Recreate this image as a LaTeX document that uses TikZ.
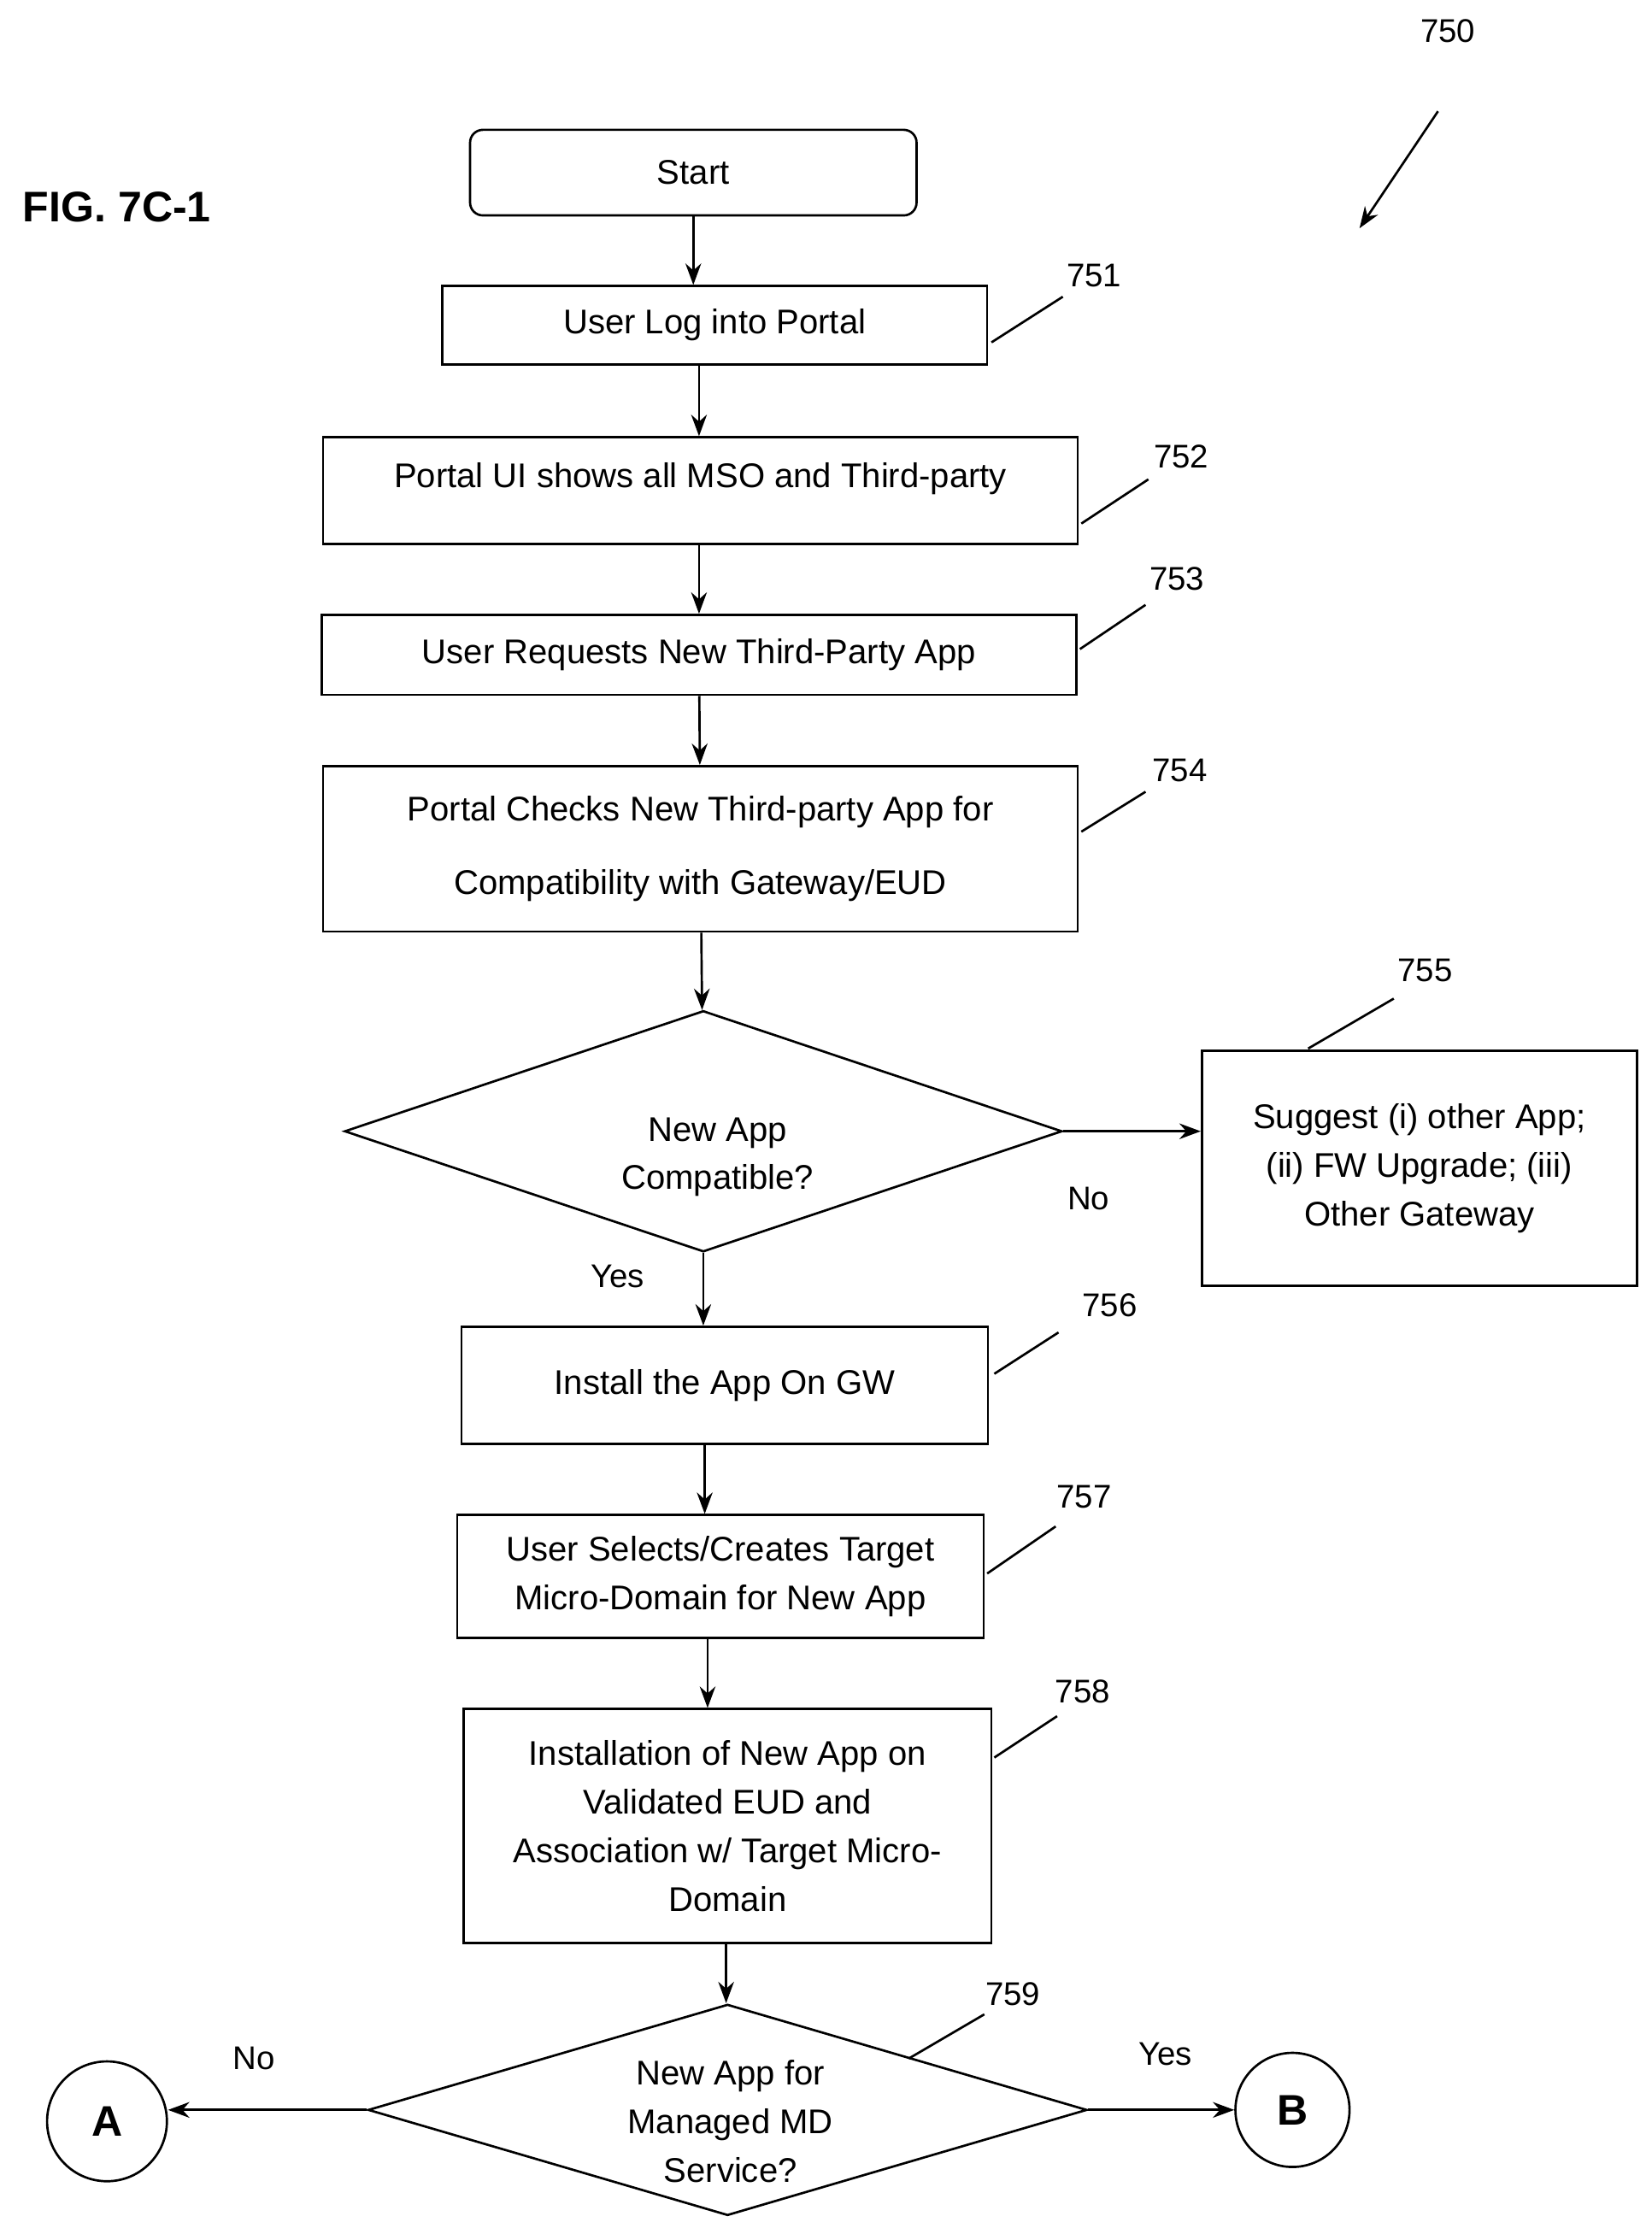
\documentclass[tikz,border=0pt]{standalone}
\usepackage{fontspec}
\setmainfont{Liberation Sans}
\usetikzlibrary{shapes.geometric,arrows.meta}
\tikzset{box/.style={draw,line width=1.6pt,inner sep=0pt,font=\fontsize{24}{34}\selectfont,align=center},
flow/.style={line width=1.6pt,-{Stealth[length=15pt,width=11pt]}},
lead/.style={line width=1.6pt},
num/.style={font=\fontsize{23}{27}\selectfont}}
\begin{document}
\begin{tikzpicture}[x=1pt,y=-1pt]
\useasboundingbox (0,0) rectangle (1158,1566);
%\draw (0,0) rectangle (1158,1566);
\node[box,rounded corners=9pt,minimum width=313pt,minimum height=60pt] at (486,121) (Start) {Start};
\node[box,minimum width=382pt,minimum height=55pt] at (501,228) (Node751) {User Log into Portal};
\node[box,minimum width=529pt,minimum height=75pt,text depth=22pt] at (491,344) (Node752) {Portal UI shows all MSO and Third-party};
\node[box,minimum width=529pt,minimum height=56pt] at (490,459) (Node753) {User Requests New Third-Party App};
\node[box,minimum width=529pt,minimum height=116pt,font=\fontsize{24}{51}\selectfont] at (491,595) (Node754) {Portal Checks New Third-party App for\\Compatibility with Gateway/EUD};
\node[box,diamond,minimum width=503pt,minimum height=169pt] at (493,793) (Dec1) {};
\node[align=center,font=\fontsize{24}{34}\selectfont] at (503,811) (Dec1Text) {New App\\Compatible?};
\node[box,minimum width=305pt,minimum height=165pt] at (995,819) (Node755) {Suggest (i) other App;\\(ii) FW Upgrade; (iii)\\Other Gateway};
\node[box,minimum width=369pt,minimum height=82pt] at (508,971) (Node756) {Install the App On GW};
\node[box,minimum width=369pt,minimum height=86pt] at (505,1105) (Node757) {User Selects/Creates Target\\Micro-Domain for New App};
\node[box,minimum width=370pt,minimum height=164pt] at (510,1280) (Node758) {Installation of New App on\\Validated EUD and\\Association w/ Target Micro-\\Domain};
\node[box,diamond,minimum width=504pt,minimum height=148pt] at (510,1479) (Dec2) {};
\node[align=center,font=\fontsize{24}{34}\selectfont] at (512,1487) (Dec2Text) {New App for\\Managed MD\\Service?};
\node[box,circle,minimum size=84pt,font=\fontsize{30}{34}\selectfont\bfseries] at (75,1487) (ConA) {A};
\node[box,circle,minimum size=80pt,font=\fontsize{30}{34}\selectfont\bfseries] at (906,1479) (ConB) {B};
\draw[flow] (Start) -- (Start.south |- Node751.north);
\draw[flow] (Node751.south -| 490,0) -- (Node752.north -| 490,0);
\draw[flow] (Node752.south -| 490,0) -- (Node753.north -| 490,0);
\draw[flow] (Node753) -- (Node754);
\draw[flow] (Node754) -- (Dec1);
\draw[flow] (Dec1.east) -- (Node755.west |- Dec1.east);
\draw[flow] (Dec1) -- (Dec1.south |- Node756.north);
\draw[flow] (Node756.south -| 494,0) -- (Node757.north -| 494,0);
\draw[flow] (Node757.south -| 496,0) -- (Node758.north -| 496,0);
\draw[flow] (Node758.south -| 509,0) -- (Dec2.north -| 509,0);
\draw[flow] (Dec2.west) -- (ConA.east |- Dec2.west);
\draw[flow] (Dec2.east) -- (ConB.west);
\node[num] at (763,840) (No1) {No};
\node[num] at (433,895) (Yes1) {Yes};
\node[num] at (178,1443) (No2) {No};
\node[num] at (817,1440) (Yes2) {Yes};
\node[font=\fontsize{30}{34}\selectfont\bfseries] at (82,145) (FigLbl) {FIG. 7C-1};
\node[num] at (1015,22) (Lbl750) {750};
\coordinate (Arr750a) at (1008,78);
\coordinate (Arr750b) at (953,160);
\draw[flow] (Arr750a) -- (Arr750b);
\foreach \n/\tx/\ty/\ax/\ay/\bx/\by in {751/767/193/695/240/745/208, 752/828/320/758/367/805/336,
753/825/406/757/455/803/424, 754/827/540/758/583/803/555, 755/999/680/917/735/977/700,
756/778/915/697/963/742/934, 757/760/1049/692/1103/740/1070, 758/759/1186/697/1232/741/1203,
759/710/1398/637/1443/690/1412}{
\node[num] at (\tx,\ty) (Lbl\n) {\n};
\draw[lead] (\ax,\ay) -- (\bx,\by);
}
\end{tikzpicture}
\end{document}
